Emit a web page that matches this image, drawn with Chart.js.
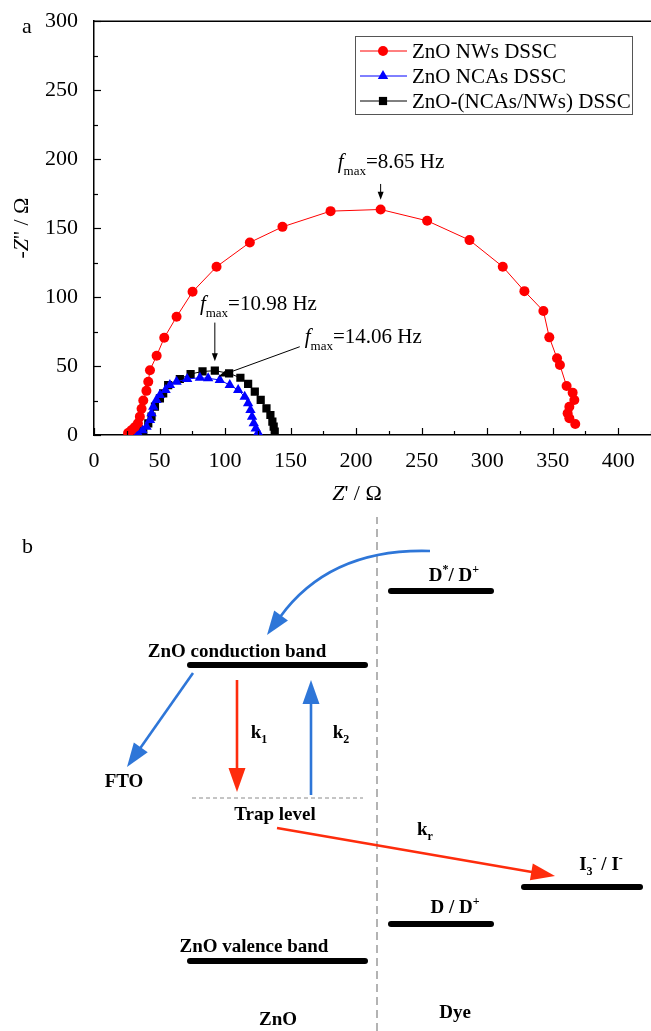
<!DOCTYPE html>
<html>
<head>
<meta charset="utf-8">
<script src="https://cdn.jsdelivr.net/npm/chart.js@4.4.1/dist/chart.umd.min.js"></script>
<style>
  html, body { margin: 0; padding: 0; background: #fff; }
  #wrapA { position: absolute; left: 0; top: 0; }
  #wrapB { position: absolute; left: 0; top: 510px; }
</style>
</head>
<body>
<div id="wrapA"><canvas id="nyquistChart" width="651" height="510"></canvas></div>
<div id="wrapB"><canvas id="bandChart" width="651" height="521"></canvas></div>
<script>
const SERIF = "'Liberation Serif', 'Times New Roman', serif";

// ---------- (a) Nyquist plot data ----------
const seriesNames = ['ZnO NWs DSSC', 'ZnO NCAs DSSC', 'ZnO-(NCAs/NWs) DSSC'];

const nwsX = [26, 28.5, 31, 33.5, 35, 36.3, 37.6, 40, 41.4, 42.7, 47.8, 53.6, 63, 75.2, 93.5, 118.9, 143.8, 180.5,
              218.7, 254.2, 286.5, 311.9, 328.4, 342.9, 347.4, 353.3, 355.5, 360.6, 365.2, 366.5, 362.7, 361.4, 362.7, 367.2];
const nwsY = [1.5, 3.5, 5.6, 8.5, 13.3, 19, 25, 32, 38.6, 47, 57.5, 70.5, 85.7, 103.8, 122, 139.6, 150.9, 162.3,
              163.5, 155.3, 141.3, 122, 104.3, 89.9, 70.8, 55.6, 50.7, 35.5, 30.7, 25.4, 20.5, 15.7, 12.1, 8];

const ncaX = [33.5, 37, 40.1, 42.7, 43.9, 45.2, 47.7, 50.3, 54.6, 57.9, 63, 71.1, 80.8, 87.1, 96, 103.6, 110, 115,
              117.6, 119.4, 120.6, 121.9, 123.4, 125.2];
const ncaY = [1.3, 3.5, 6, 10.9, 15.7, 20.5, 25.4, 29, 32.6, 36.2, 38.6, 40.6, 41.5, 41.1, 39.9, 36.2, 32.6, 27.8,
              23, 18.1, 13.3, 8.5, 4.8, 1.7];

const mixX = [33.3, 37.6, 41.4, 43.9, 46.5, 50.3, 52.8, 56.6, 65.5, 73.7, 82.8, 92.2, 103.1, 111.7, 117.6, 122.7,
              127.2, 131.6, 134.6, 136.1, 137.1, 137.9];
const mixY = [1.2, 3.6, 8.5, 13.3, 20.5, 26.6, 30.2, 36.2, 40.6, 44.2, 46.1, 46.6, 44.7, 41.5, 37, 31.4,
              25.4, 19.3, 14.5, 9.7, 6, 2.4];

const xTickLabels = [0, 50, 100, 150, 200, 250, 300, 350, 400];
const yTickLabels = [0, 50, 100, 150, 200, 250, 300];

// f_max annotations: label anchor, arrow start/end (data units)
const fmaxLabels = ['=8.65 Hz', '=10.98 Hz', '=14.06 Hz'];
const fmaxLabelX = [186, 80.8, 160.8];
const fmaxLabelY = [193.5, 90.6, 66.5];
const fmaxArrowFrom = [[218.7, 182], [92.2, 81.5], [157, 64]];
const fmaxArrowTo = [[218.7, 170.5], [92.2, 53.5], [95, 42.5]];

// ---------- (b) band diagram data (x: position, E: energy level, arbitrary units) ----------
const levelNames = ['CB', 'D*/D+', 'I3-/I-', 'D/D+', 'VB'];
const levelX1 = [19.0, 39.1, 52.4, 39.1, 19.0];
const levelX2 = [36.5, 49.1, 64.0, 49.1, 36.5];
const levelE = [36.6, 44.0, 14.4, 10.7, 7.0];

const trapX = [19.2, 36.3];
const trapE = 23.3;
const interfaceX = 37.7;
const interfaceE = [0, 51.4];

const bandLabels = [
  [['ZnO conduction band', '']],
  [['D', ''], ['*', 'sup'], ['/ D', ''], ['+', 'sup']],
  [['k', ''], ['1', 'sub']],
  [['k', ''], ['2', 'sub']],
  [['FTO', '']],
  [['Trap level', '']],
  [['k', ''], ['r', 'sub']],
  [['I', ''], ['3', 'sub'], ['-', 'sup'], [' / I', ''], ['-', 'sup']],
  [['D / D', ''], ['+', 'sup']],
  [['ZnO valence band', '']],
  [['ZnO', '']],
  [['Dye', '']]
];
const bandLabelX = [23.7, 45.4, 25.9, 34.1, 12.4, 27.5, 42.5, 60.1, 45.5, 25.4, 27.8, 45.5];
const bandLabelE = [37.4, 45.0, 29.3, 29.3, 24.4, 21.1, 19.6, 16.1, 11.8, 7.9, 0.6, 1.3];

const BLUE = '#2e76d8';
const RED = '#fe2c0c';
const arrowFrom = [[43.0, 48.0], [19.3, 35.8], [23.7, 35.1], [31.1, 23.6], [27.7, 20.3]];
const arrowTo = [[26.7, 39.6], [12.7, 26.4], [23.7, 23.9], [31.1, 35.1], [55.5, 15.5]];
const arrowCtrl = [[33.0, 48.3], null, null, null, null];
const arrowColor = [BLUE, BLUE, RED, BLUE, RED];

// ---------- helpers ----------
function drawRich(ctx, parts, x, y, size, opts) {
  opts = opts || {};
  const weight = opts.bold ? 'bold ' : '';
  const small = opts.smallScale || 0.65;
  const fontFor = p => {
    const isSmall = p[1] === 'sup' || p[1] === 'sub';
    const s = isSmall ? Math.round(size * small) : size;
    const st = p[1] === 'i' ? 'italic ' : '';
    return st + weight + s + 'px ' + SERIF;
  };
  let total = 0;
  parts.forEach(p => { ctx.font = fontFor(p); total += ctx.measureText(p[0]).width; });
  let cx = opts.align === 'center' ? x - total / 2 : x;
  ctx.textAlign = 'left';
  ctx.textBaseline = 'alphabetic';
  parts.forEach(p => {
    ctx.font = fontFor(p);
    let dy = 0;
    if (p[1] === 'sup') dy = -size * 0.42;
    if (p[1] === 'sub') dy = size * (opts.subDrop || 0.28);
    ctx.fillText(p[0], cx, y + dy);
    cx += ctx.measureText(p[0]).width;
  });
}

function arrowHead(ctx, tipX, tipY, angle, len, width, color) {
  ctx.save();
  ctx.translate(tipX, tipY);
  ctx.rotate(angle);
  ctx.beginPath();
  ctx.moveTo(0, 0);
  ctx.lineTo(-len, width / 2);
  ctx.lineTo(-len, -width / 2);
  ctx.closePath();
  ctx.fillStyle = color;
  ctx.fill();
  ctx.restore();
}

function drawMarker(ctx, style, x, y, r, color) {
  ctx.fillStyle = color;
  ctx.beginPath();
  if (style === 'circle') {
    ctx.arc(x, y, r, 0, Math.PI * 2);
  } else if (style === 'triangle') {
    ctx.moveTo(x, y - r);
    ctx.lineTo(x + r * 0.866, y + r * 0.5);
    ctx.lineTo(x - r * 0.866, y + r * 0.5);
    ctx.closePath();
  } else {
    const s = r * Math.SQRT1_2;
    ctx.rect(x - s, y - s, 2 * s, 2 * s);
  }
  ctx.fill();
}

// ---------- chart (a) ----------
const pts = (xs, ys) => xs.map((x, i) => ({ x: x, y: ys[i] }));

const nyquistDecor = {
  id: 'nyquistDecor',
  afterDraw(chart) {
    const { ctx, chartArea: a, scales: { x, y } } = chart;
    ctx.save();
    ctx.strokeStyle = '#000';
    ctx.lineWidth = 1.5;
    // top frame line
    ctx.beginPath();
    ctx.moveTo(a.left, a.top);
    ctx.lineTo(a.right, a.top);
    ctx.stroke();
    // inward ticks (major every 50, minor every 25)
    ctx.lineWidth = 1.2;
    for (let v = 0; v <= 425; v += 25) {
      const px = Math.round(x.getPixelForValue(v)) + 0.5;
      const len = v % 50 === 0 ? 7 : 4;
      ctx.beginPath();
      ctx.moveTo(px, a.bottom);
      ctx.lineTo(px, a.bottom - len);
      ctx.stroke();
    }
    for (let v = 0; v <= 300; v += 25) {
      const py = Math.round(y.getPixelForValue(v)) + 0.5;
      const len = v % 50 === 0 ? 7 : 4;
      ctx.beginPath();
      ctx.moveTo(a.left, py);
      ctx.lineTo(a.left + len, py);
      ctx.stroke();
    }

    ctx.fillStyle = '#000';
    // panel letter
    ctx.font = '22px ' + SERIF;
    ctx.textAlign = 'left';
    ctx.textBaseline = 'alphabetic';
    ctx.fillText('a', 22, 33);

    // axis titles
    drawRich(ctx, [['Z', 'i'], ["' / \u03a9", '']], 357, 500, 22, { align: 'center' });
    ctx.save();
    ctx.translate(28, (a.top + a.bottom) / 2);
    ctx.rotate(-Math.PI / 2);
    drawRich(ctx, [['-', ''], ['Z', 'i'], ["'' / \u03a9", '']], 0, 0, 22, { align: 'center' });
    ctx.restore();

    // legend
    ctx.strokeStyle = '#555';
    ctx.lineWidth = 1;
    ctx.strokeRect(355.5, 36.5, 277, 78);
    const legY = [51, 76, 101];
    chart.data.datasets.forEach((ds, i) => {
      ctx.strokeStyle = ds.borderColor;
      ctx.lineWidth = 1;
      ctx.beginPath();
      ctx.moveTo(360, legY[i]);
      ctx.lineTo(407, legY[i]);
      ctx.stroke();
      drawMarker(ctx, ds.pointStyle, 383, legY[i], ds.pointRadius, ds.backgroundColor);
      ctx.fillStyle = '#000';
      ctx.font = '21px ' + SERIF;
      ctx.textBaseline = 'middle';
      ctx.fillText(ds.label, 412, legY[i] + 1);
    });

    // f_max annotations
    ctx.fillStyle = '#000';
    fmaxLabels.forEach((t, i) => {
      drawRich(ctx, [['f', 'i'], ['max', 'sub'], [t, '']],
        x.getPixelForValue(fmaxLabelX[i]), y.getPixelForValue(fmaxLabelY[i]), 21,
        { smallScale: 0.62, subDrop: 0.33 });
      const x0 = x.getPixelForValue(fmaxArrowFrom[i][0]), y0 = y.getPixelForValue(fmaxArrowFrom[i][1]);
      const x1 = x.getPixelForValue(fmaxArrowTo[i][0]), y1 = y.getPixelForValue(fmaxArrowTo[i][1]);
      const ang = Math.atan2(y1 - y0, x1 - x0);
      ctx.strokeStyle = '#000';
      ctx.lineWidth = 1;
      ctx.beginPath();
      ctx.moveTo(x0, y0);
      ctx.lineTo(x1 - 6 * Math.cos(ang), y1 - 6 * Math.sin(ang));
      ctx.stroke();
      arrowHead(ctx, x1, y1, ang, 8, 6, '#000');
    });
    ctx.restore();
  }
};

new Chart(document.getElementById('nyquistChart'), {
  type: 'scatter',
  data: {
    datasets: [
      {
        label: seriesNames[0], data: pts(nwsX, nwsY), showLine: true,
        borderColor: '#ff0000', backgroundColor: '#ff0000', borderWidth: 1,
        pointStyle: 'circle', pointRadius: 5, pointBorderWidth: 0
      },
      {
        label: seriesNames[1], data: pts(ncaX, ncaY), showLine: true,
        borderColor: '#0000ff', backgroundColor: '#0000ff', borderWidth: 1,
        pointStyle: 'triangle', pointRadius: 6, pointBorderWidth: 0
      },
      {
        label: seriesNames[2], data: pts(mixX, mixY), showLine: true,
        borderColor: '#000000', backgroundColor: '#000000', borderWidth: 1,
        pointStyle: 'rect', pointRadius: 5.8, pointBorderWidth: 0
      }
    ]
  },
  options: {
    responsive: false,
    animation: false,
    layout: { padding: { top: 21, left: 0, right: 0, bottom: 0 }, autoPadding: false },
    plugins: { legend: { display: false }, tooltip: { enabled: false } },
    scales: {
      x: {
        type: 'linear', min: 0, max: 425,
        afterBuildTicks: s => { s.ticks = xTickLabels.map(v => ({ value: v })); },
        afterFit: s => { s.height = 75; },
        grid: { display: false },
        border: { display: true, color: '#000', width: 1.5 },
        ticks: { color: '#000', padding: 5, maxRotation: 0, font: { family: SERIF, size: 22 } }
      },
      y: {
        type: 'linear', min: 0, max: 300,
        afterBuildTicks: s => { s.ticks = yTickLabels.map(v => ({ value: v })); },
        afterFit: s => { s.width = 94; },
        grid: { display: false },
        border: { display: true, color: '#000', width: 1.5 },
        ticks: { color: '#000', padding: 8, font: { family: SERIF, size: 22 } }
      }
    }
  },
  plugins: [nyquistDecor]
});

// ---------- chart (b) ----------
const bandDecor = {
  id: 'bandDecor',
  afterDatasetsDraw(chart) {
    const { ctx, scales: { x, y } } = chart;
    ctx.save();
    // arrows
    arrowFrom.forEach((f, i) => {
      const x0 = x.getPixelForValue(f[0]), y0 = y.getPixelForValue(f[1]);
      const x1 = x.getPixelForValue(arrowTo[i][0]), y1 = y.getPixelForValue(arrowTo[i][1]);
      const c = arrowCtrl[i];
      const headLen = 24, headW = 17;
      ctx.strokeStyle = arrowColor[i];
      ctx.lineWidth = 2.6;
      ctx.beginPath();
      ctx.moveTo(x0, y0);
      let ang;
      if (c) {
        const cx = x.getPixelForValue(c[0]), cy = y.getPixelForValue(c[1]);
        ang = Math.atan2(y1 - cy, x1 - cx);
        ctx.quadraticCurveTo(cx, cy, x1 - (headLen - 2) * Math.cos(ang), y1 - (headLen - 2) * Math.sin(ang));
      } else {
        ang = Math.atan2(y1 - y0, x1 - x0);
        ctx.lineTo(x1 - (headLen - 2) * Math.cos(ang), y1 - (headLen - 2) * Math.sin(ang));
      }
      ctx.stroke();
      arrowHead(ctx, x1, y1, ang, headLen, headW, arrowColor[i]);
    });
    // labels
    ctx.fillStyle = '#000';
    bandLabels.forEach((parts, i) => {
      drawRich(ctx, parts, x.getPixelForValue(bandLabelX[i]), y.getPixelForValue(bandLabelE[i]), 19,
        { bold: true, align: 'center', smallScale: 0.62 });
    });
    ctx.font = '22px ' + SERIF;
    ctx.textAlign = 'left';
    ctx.fillText('b', 22, 43);
    ctx.restore();
  }
};

const levelSets = levelNames.map((n, i) => ({
  label: n,
  data: [{ x: levelX1[i], y: levelE[i] }, { x: levelX2[i], y: levelE[i] }],
  showLine: true, borderColor: '#000', borderWidth: 6, borderCapStyle: 'round', pointRadius: 0
}));

new Chart(document.getElementById('bandChart'), {
  type: 'scatter',
  data: {
    datasets: [
      ...levelSets,
      {
        label: 'Trap level',
        data: [{ x: trapX[0], y: trapE }, { x: trapX[1], y: trapE }],
        showLine: true, borderColor: '#8a8a8a', borderWidth: 1, borderDash: [4, 3], pointRadius: 0
      },
      {
        label: 'interface',
        data: [{ x: interfaceX, y: interfaceE[0] }, { x: interfaceX, y: interfaceE[1] }],
        showLine: true, borderColor: '#9a9a9a', borderWidth: 1.5, borderDash: [8, 5], pointRadius: 0
      }
    ]
  },
  options: {
    responsive: false,
    animation: false,
    layout: { padding: 0, autoPadding: false },
    plugins: { legend: { display: false }, tooltip: { enabled: false } },
    scales: {
      x: { type: 'linear', min: 0, max: 65.1, display: false },
      y: { type: 'linear', min: 0, max: 52.1, display: false }
    }
  },
  plugins: [bandDecor]
});
</script>
</body>
</html>
